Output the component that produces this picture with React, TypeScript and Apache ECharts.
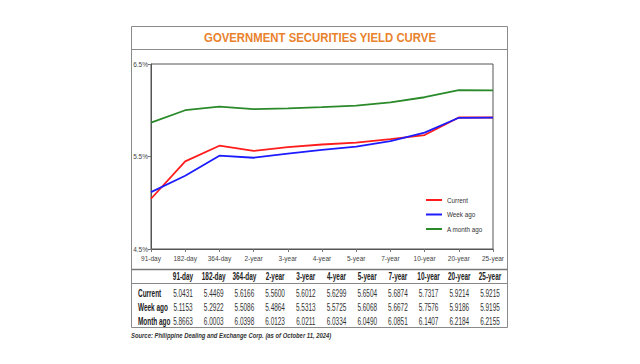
import React, { useEffect, useRef } from "react";
import * as echarts from "echarts";

const categories = ["91-day", "182-day", "364-day", "2-year", "3-year", "4-year", "5-year", "7-year", "10-year", "20-year", "25-year"];
const current = [5.0431, 5.4469, 5.6166, 5.56, 5.6012, 5.6299, 5.6504, 5.6874, 5.7317, 5.9214, 5.9215];
const weekAgo = [5.1153, 5.2922, 5.5086, 5.4864, 5.5313, 5.5725, 5.6068, 5.6672, 5.7576, 5.9186, 5.9195];
const monthAgo = [5.8663, 6.0003, 6.0398, 6.0123, 6.0211, 6.0334, 6.049, 6.0851, 6.1407, 6.2184, 6.2155];
const seriesNames = ["Current", "Week ago", "A month ago"];
const rowLabels = ["Current", "Week ago", "Month ago"];
const titleText = "GOVERNMENT SECURITIES YIELD CURVE";
const sourceText = "Source: Philippine Dealing and Exchange Corp. (as of October 11, 2024)";

const NARROW = "'Liberation Sans Narrow', 'Arial Narrow', 'Liberation Sans', Arial, sans-serif";
const SANS = "'Liberation Sans', Arial, sans-serif";

export default function App() {
  const ref = useRef<HTMLDivElement>(null);
  useEffect(() => {
    document.body.style.margin = "0";
    const chart = echarts.init(ref.current!, null, { renderer: "svg" });
    const colX0 = 183;
    const colStep = 30.7;
    const rows = [current, weekAgo, monthAgo];
    const rowY = [293.5, 307.5, 321];
    const tableTexts: any[] = [];
    categories.forEach((c, i) => {
      tableTexts.push({
        type: "text",
        x: colX0 + i * colStep,
        y: 276.5,
        scaleX: 0.56,
        style: { text: c, x: 0, y: 0, align: "center", verticalAlign: "middle", font: `bold 11.5px ${SANS}`, fill: "#222" },
      });
    });
    rows.forEach((r, ri) => {
      tableTexts.push({
        type: "text",
        x: 138,
        y: rowY[ri],
        scaleX: 0.56,
        style: { text: rowLabels[ri], x: 0, y: 0, align: "left", verticalAlign: "middle", font: `bold 11.5px ${SANS}`, fill: "#222" },
      });
      r.forEach((v, i) => {
        tableTexts.push({
          type: "text",
          x: colX0 + i * colStep,
          y: rowY[ri],
          scaleX: 0.56,
          style: { text: v.toFixed(4), x: 0, y: 0, align: "center", verticalAlign: "middle", font: `11.5px ${SANS}`, fill: "#333" },
        });
      });
    });

    const option: any = {
      animation: false,
      backgroundColor: "#ffffff",
      grid: { left: 151, top: 64, right: 147, bottom: 115, show: true, borderColor: "#555", borderWidth: 1, backgroundColor: "#fff" },
      xAxis: {
        type: "category",
        data: categories,
        boundaryGap: false,
        axisLine: { lineStyle: { color: "#555", width: 1 } },
        axisTick: { show: true, length: 3, lineStyle: { color: "#777" } },
        axisLabel: { fontSize: 6.5, color: "#444", fontFamily: NARROW, margin: 6, interval: 0 },
        splitLine: { show: false },
      },
      yAxis: {
        type: "value",
        min: 4.5,
        max: 6.5,
        interval: 1,
        axisLine: { show: true, lineStyle: { color: "#555", width: 1 } },
        axisTick: { show: true, length: 3, lineStyle: { color: "#777" } },
        axisLabel: { fontSize: 6.5, color: "#444", fontFamily: NARROW, margin: 3, formatter: (v: number) => v.toFixed(1) + "%" },
        splitLine: { show: false },
      },
      legend: {
        orient: "vertical",
        left: 426,
        top: 195,
        padding: 0,
        icon: "rect",
        itemWidth: 16,
        itemHeight: 2,
        itemGap: 4.5,
        data: seriesNames,
        textStyle: { fontSize: 6.3, color: "#333", fontFamily: NARROW, lineHeight: 10 },
      },
      series: [
        { name: seriesNames[0], type: "line", data: current, showSymbol: false, symbol: "none", lineStyle: { color: "#ff1c1c", width: 1.8 }, itemStyle: { color: "#ff1c1c" } },
        { name: seriesNames[1], type: "line", data: weekAgo, showSymbol: false, symbol: "none", lineStyle: { color: "#1c1cff", width: 1.8 }, itemStyle: { color: "#1c1cff" } },
        { name: seriesNames[2], type: "line", data: monthAgo, showSymbol: false, symbol: "none", lineStyle: { color: "#2a8a2a", width: 1.8 }, itemStyle: { color: "#2a8a2a" } },
      ],
      graphic: [
        { type: "rect", shape: { x: 131.5, y: 26.5, width: 376, height: 301 }, style: { fill: "none", stroke: "#8a8a8a", lineWidth: 1 }, silent: true },
        { type: "line", shape: { x1: 131.5, y1: 49.5, x2: 507.5, y2: 49.5 }, style: { stroke: "#8a8a8a", lineWidth: 1 } },
        { type: "line", shape: { x1: 131.5, y1: 269.5, x2: 507.5, y2: 269.5 }, style: { stroke: "#777", lineWidth: 1.5 } },
        { type: "line", shape: { x1: 131.5, y1: 283.5, x2: 507.5, y2: 283.5 }, style: { stroke: "#888", lineWidth: 1 } },
        {
          type: "text",
          x: 320,
          y: 38,
          scaleX: 0.91,
          style: { text: titleText, x: 0, y: 0, align: "center", verticalAlign: "middle", font: `bold 12.5px ${SANS}`, fill: "#e9822d" },
        },
        {
          type: "text",
          x: 131,
          y: 335,
          scaleX: 0.84,
          style: { text: sourceText, x: 0, y: 0, align: "left", verticalAlign: "middle", font: `italic bold 7px ${SANS}`, fill: "#333" },
        },
        ...tableTexts,
      ],
    };
    chart.setOption(option);
    return () => chart.dispose();
  }, []);
  return <div ref={ref} style={{ position: "absolute", left: 0, top: 0, width: 640, height: 364 }} />;
}
